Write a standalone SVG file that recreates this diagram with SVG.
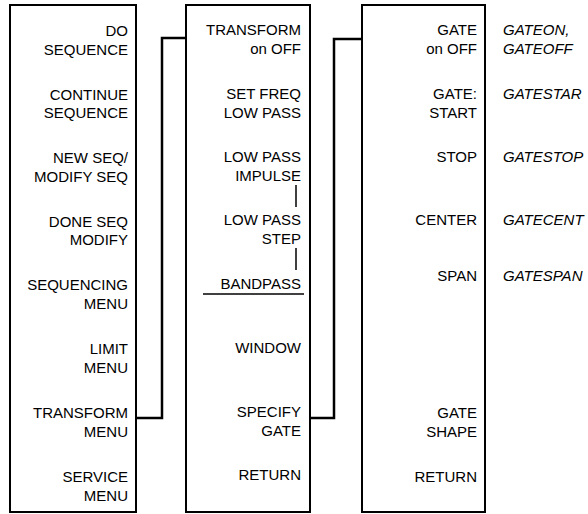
<svg xmlns="http://www.w3.org/2000/svg" width="588" height="514" viewBox="0 0 588 514">
<style>
.box{fill:#fff;stroke:#000;stroke-width:2}
.t{font-family:"Liberation Sans",Arial,sans-serif;font-size:15px;fill:#000;text-anchor:end}
.i{font-family:"Liberation Sans",Arial,sans-serif;font-size:15px;font-style:italic;fill:#000}
.c{fill:none;stroke:#000;stroke-width:2.5}
.l{stroke:#000;stroke-width:1.5}
</style>
<rect width="588" height="514" fill="#fff"/>
<g id="menu1">
<rect class="box" x="10" y="5" width="126" height="507"/>
<text class="t" x="128" y="36">DO</text>
<text class="t" x="128" y="54.5">SEQUENCE</text>
<text class="t" x="128" y="99.5">CONTINUE</text>
<text class="t" x="128" y="118">SEQUENCE</text>
<text class="t" x="128" y="163">NEW SEQ/</text>
<text class="t" x="128" y="181.5">MODIFY SEQ</text>
<text class="t" x="128" y="226.5">DONE SEQ</text>
<text class="t" x="128" y="245">MODIFY</text>
<text class="t" x="128" y="290">SEQUENCING</text>
<text class="t" x="128" y="308.5">MENU</text>
<text class="t" x="128" y="354">LIMIT</text>
<text class="t" x="128" y="372.5">MENU</text>
<text class="t" x="128" y="418">TRANSFORM</text>
<text class="t" x="128" y="436.5">MENU</text>
<text class="t" x="128" y="482">SERVICE</text>
<text class="t" x="128" y="500.5">MENU</text>
</g>
<g id="menu2">
<rect class="box" x="186" y="5" width="124" height="507"/>
<text class="t" x="301" y="35">TRANSFORM</text>
<text class="t" x="301" y="53.5">on OFF</text>
<text class="t" x="301" y="99">SET FREQ</text>
<text class="t" x="301" y="117.5">LOW PASS</text>
<text class="t" x="301" y="162">LOW PASS</text>
<text class="t" x="301" y="180.5">IMPULSE</text>
<line class="l" x1="296" y1="185" x2="296" y2="207"/>
<text class="t" x="301" y="225">LOW PASS</text>
<text class="t" x="301" y="243.5">STEP</text>
<line class="l" x1="296" y1="248" x2="296" y2="270"/>
<text class="t" x="301" y="289">BANDPASS</text>
<line class="l" x1="203" y1="294" x2="304" y2="294"/>
<text class="t" x="301" y="353">WINDOW</text>
<text class="t" x="301" y="417">SPECIFY</text>
<text class="t" x="301" y="435.5">GATE</text>
<text class="t" x="301" y="480">RETURN</text>
</g>
<g id="menu3">
<rect class="box" x="362" y="5" width="123" height="507"/>
<text class="t" x="477" y="35">GATE</text>
<text class="t" x="477" y="53.5">on OFF</text>
<text class="t" x="477" y="99">GATE:</text>
<text class="t" x="477" y="117.5">START</text>
<text class="t" x="477" y="162">STOP</text>
<text class="t" x="477" y="225">CENTER</text>
<text class="t" x="477" y="281">SPAN</text>
<text class="t" x="477" y="418">GATE</text>
<text class="t" x="477" y="436.5">SHAPE</text>
<text class="t" x="477" y="482">RETURN</text>
</g>
<g id="commands">
<text class="i" x="503" y="35">GATEON,</text>
<text class="i" x="503" y="53.5">GATEOFF</text>
<text class="i" x="503" y="99">GATESTAR</text>
<text class="i" x="503" y="162">GATESTOP</text>
<text class="i" x="503" y="225">GATECENT</text>
<text class="i" x="503" y="281">GATESPAN</text>
</g>
<g id="connectors">
<path class="c" d="M136 418 H162 V38 H186"/>
<path class="c" d="M310 418 H334 V39 H362"/>
</g>
</svg>
